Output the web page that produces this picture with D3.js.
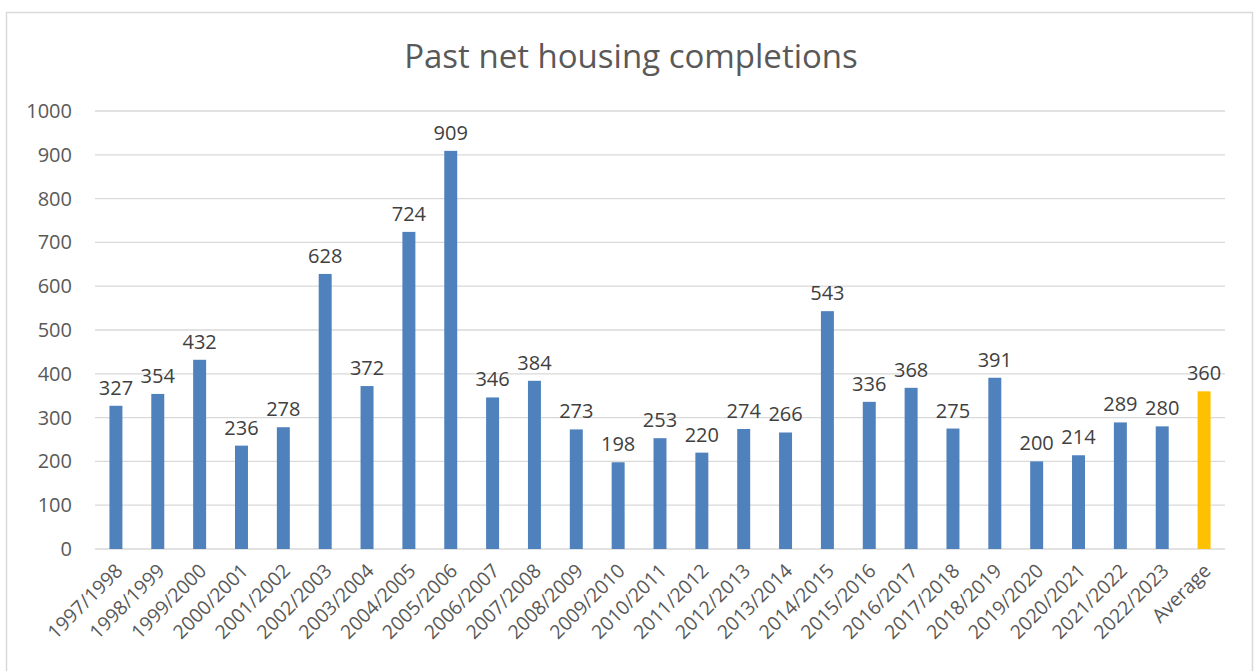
<!DOCTYPE html>
<html>
<head>
<meta charset="utf-8">
<script src="https://cdn.jsdelivr.net/npm/d3@7"></script>
<style>
  body { margin: 0; background: #fff; }
  text { font-family: "Open Sans", "Noto Sans", sans-serif; }
</style>
</head>
<body>
<div id="chart"></div>
<script>
const years = ["1997/1998", "1998/1999", "1999/2000", "2000/2001", "2001/2002", "2002/2003",
  "2003/2004", "2004/2005", "2005/2006", "2006/2007", "2007/2008", "2008/2009", "2009/2010",
  "2010/2011", "2011/2012", "2012/2013", "2013/2014", "2014/2015", "2015/2016", "2016/2017",
  "2017/2018", "2018/2019", "2019/2020", "2020/2021", "2021/2022", "2022/2023", "Average"];
const completions = [327, 354, 432, 236, 278, 628, 372, 724, 909, 346, 384, 273, 198,
  253, 220, 274, 266, 543, 336, 368, 275, 391, 200, 214, 289, 280, 360];
const yTicks = [0, 100, 200, 300, 400, 500, 600, 700, 800, 900, 1000];

const width = 1257, height = 671;
const margin = { top: 111, right: 32, bottom: 122, left: 95 };

const svg = d3.select("#chart").append("svg")
  .attr("width", width)
  .attr("height", height);

// chart border
svg.append("rect")
  .attr("x", 6.5).attr("y", 12.5)
  .attr("width", 1246).attr("height", 680)
  .attr("fill", "none")
  .attr("stroke", "#d9d9d9")
  .attr("stroke-width", 1.5);

svg.append("text")
  .attr("x", 631).attr("y", 68)
  .attr("text-anchor", "middle")
  .attr("font-size", 33)
  .attr("fill", "#595959")
  .text("Past net housing completions");

const x = d3.scaleBand()
  .domain(years)
  .range([margin.left, width - margin.right])
  .paddingInner(0.69)
  .paddingOuter(0.345);

const y = d3.scaleLinear()
  .domain([0, 1000])
  .range([height - margin.bottom, margin.top]);

// gridlines
svg.append("g")
  .selectAll("line")
  .data(yTicks)
  .join("line")
  .attr("x1", margin.left)
  .attr("x2", width - margin.right)
  .attr("y1", d => y(d))
  .attr("y2", d => y(d))
  .attr("stroke", "#d9d9d9")
  .attr("stroke-width", 1.3);

// y labels
const yAxis = svg.append("g")
  .attr("transform", `translate(${margin.left - 23},0)`)
  .call(d3.axisLeft(y).tickValues(yTicks).tickFormat(d3.format("d")).tickSize(0).tickPadding(0));
yAxis.select(".domain").remove();
yAxis.selectAll("text")
  .attr("font-size", 20)
  .attr("fill", "#595959")
  .attr("font-family", "'Open Sans', sans-serif");

// bars
svg.append("g")
  .selectAll("rect")
  .data(years)
  .join("rect")
  .attr("x", d => x(d))
  .attr("y", (d, i) => y(completions[i]))
  .attr("width", x.bandwidth())
  .attr("height", (d, i) => y(0) - y(completions[i]))
  .attr("fill", d => d === "Average" ? "#ffc000" : "#4f81bd");

// value labels
svg.append("g")
  .selectAll("text")
  .data(years)
  .join("text")
  .attr("x", d => x(d) + x.bandwidth() / 2)
  .attr("y", (d, i) => y(completions[i]) - 11)
  .attr("text-anchor", "middle")
  .attr("font-size", 20)
  .attr("fill", "#404040")
  .text((d, i) => completions[i]);

// x labels
const xAxis = svg.append("g")
  .attr("transform", `translate(0,${y(0)})`)
  .call(d3.axisBottom(x).tickSize(0).tickPadding(0));
xAxis.select(".domain").remove();
xAxis.selectAll("text")
  .attr("font-size", 19.5)
  .attr("fill", "#595959")
  .attr("font-family", "'Open Sans', sans-serif")
  .attr("text-anchor", "end")
  .attr("dy", null)
  .attr("transform", "translate(8,23) rotate(-45)");
</script>
</body>
</html>
